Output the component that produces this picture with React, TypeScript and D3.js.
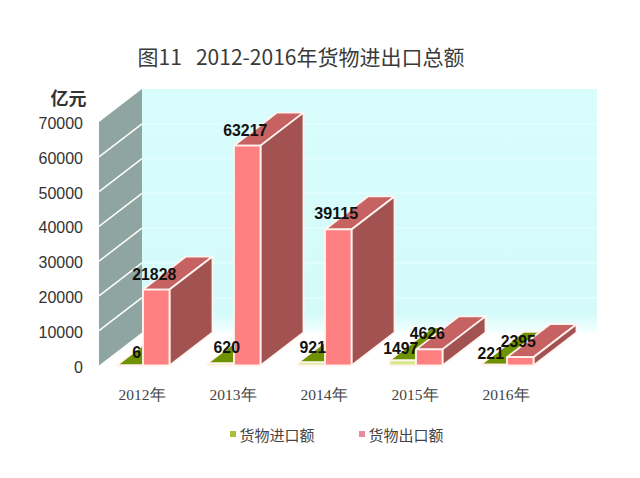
import React from "react";
import { scaleBand, scaleLinear, range } from "d3";

const years = ["2012年", "2013年", "2014年", "2015年", "2016年"];
const importValues = [6, 620, 921, 1497, 221];
const exportValues = [21828, 63217, 39115, 4626, 2395];
const yTicks = [0, 10000, 20000, 30000, 40000, 50000, 60000, 70000];
const legendLabels = ["货物进口额", "货物出口额"];

const width = 640;
const height = 478;
const depthX = 43;
const depthY = -33;
const cjk = '"Noto Sans CJK SC", sans-serif';
const latin = '"Liberation Sans", Arial, sans-serif';

const y = scaleLinear().domain([0, 70000]).range([365.5, 122]);
const x = scaleBand().domain(years).range([97.5, 552.5]);
const barWidth = 26.5;
const wallX = 99;
const backRight = 597;

// hand nudges so the value labels sit where they do in the original
const importNudge = [
  [7, -13],
  [6, -16],
  [1, -15],
  [-2, -12],
  [-3, -12],
];

const poly = (pts: number[][]) => pts.map((p) => p.join(",")).join(" ");

function Bar({ bx, value, front, top, side }: any) {
  const x0 = bx;
  const x1 = bx + barWidth;
  const y0 = y(0);
  const y1 = y(value);
  return (
    <g stroke="#fff4f0" strokeWidth={1.8} strokeLinejoin="round">
      <polygon
        points={poly([
          [x0, y1],
          [x0 + depthX, y1 + depthY],
          [x1 + depthX, y1 + depthY],
          [x1, y1],
        ])}
        fill={top}
      />
      <polygon
        points={poly([
          [x1, y1],
          [x1 + depthX, y1 + depthY],
          [x1 + depthX, y0 + depthY],
          [x1, y0],
        ])}
        fill={side}
      />
      <rect x={x0} y={y1} width={barWidth} height={y0 - y1} fill={front} />
    </g>
  );
}

function ValueLabel({ cx, cy, value }: any) {
  const s = String(value);
  return (
    <text
      x={cx}
      y={cy + 6}
      textLength={s.length * 8.8}
      lengthAdjust="spacingAndGlyphs"
    >
      {s}
    </text>
  );
}

export default function App() {
  return (
    <svg
      width={width}
      height={height}
      style={{ position: "absolute", left: 0, top: 0, background: "#fff" }}
    >
      <defs>
        <linearGradient id="backWall" x1="0" y1="0" x2="0" y2="1">
          <stop offset="0" stopColor="#d9fdfd" />
          <stop offset="0.92" stopColor="#d4fafa" />
          <stop offset="1" stopColor="#f4ffff" />
        </linearGradient>
      </defs>

      <text
        x={301}
        y={65}
        textAnchor="middle"
        fontFamily={cjk}
        fontSize={21}
        fill="#3a3a3a"
      >
        {"图11\u00a0\u00a0\u00a02012-2016年货物进出口总额"}
      </text>

      <rect
        x={wallX + depthX}
        y={y(70000) + depthY}
        width={backRight - wallX - depthX}
        height={y(0) - y(70000)}
        fill="url(#backWall)"
      />
      {yTicks.slice(1, -1).map((t) => (
        <line
          key={t}
          x1={wallX + depthX}
          x2={backRight}
          y1={y(t) + depthY}
          y2={y(t) + depthY}
          stroke="#e2ffff"
          strokeWidth={1.5}
        />
      ))}

      <polygon
        points={poly([
          [wallX, y(70000)],
          [wallX + depthX, y(70000) + depthY],
          [wallX + depthX, y(0) + depthY],
          [wallX, y(0)],
        ])}
        fill="#8fa5a2"
      />
      {yTicks.slice(1, -1).map((t) => (
        <line
          key={t}
          x1={wallX}
          y1={y(t)}
          x2={wallX + depthX}
          y2={y(t) + depthY}
          stroke="#fff"
          strokeWidth={1.5}
        />
      ))}

      {yTicks.map((t) => (
        <text
          key={t}
          x={83}
          y={y(t) + 7}
          textAnchor="end"
          fontFamily={latin}
          fontSize={16}
          fill="#333"
        >
          {t}
        </text>
      ))}
      <text
        x={68.5}
        y={105}
        textAnchor="middle"
        fontFamily={cjk}
        fontSize={18}
        fontWeight="bold"
        fill="#333"
      >
        亿元
      </text>

      {range(years.length).map((i) => {
        const c = x(years[i])! + x.bandwidth() / 2;
        return (
          <g key={years[i]}>
            <Bar
              bx={c - barWidth}
              value={importValues[i]}
              front="#d6ea8c"
              top="#6f9200"
              side="#5f7d00"
            />
            <Bar
              bx={c}
              value={exportValues[i]}
              front="#ff8080"
              top="#c66262"
              side="#a35252"
            />
          </g>
        );
      })}

      {range(years.length).map((i) => {
        const c = x(years[i])! + x.bandwidth() / 2;
        return (
          <g
            key={years[i]}
            fontFamily={latin}
            fontSize={16.5}
            fontWeight="bold"
            fill="#111"
            textAnchor="middle"
          >
            <ValueLabel
              cx={c - barWidth / 2 + importNudge[i][0]}
              cy={y(importValues[i]) + importNudge[i][1]}
              value={importValues[i]}
            />
            <ValueLabel
              cx={c + barWidth / 2 - 2}
              cy={y(exportValues[i]) - 16}
              value={exportValues[i]}
            />
          </g>
        );
      })}

      {years.map((d) => (
        <text
          key={d}
          x={x(d)! + x.bandwidth() / 2 - 1}
          y={400}
          textAnchor="middle"
          fontFamily='"Liberation Serif", serif'
          fontSize={15.5}
          fill="#444"
        >
          {d}
        </text>
      ))}

      {legendLabels.map((d, i) => (
        <g key={d} transform={`translate(${230 + i * 129},0)`}>
          <rect
            x={0}
            y={431}
            width={6}
            height={6}
            fill={i === 0 ? "#a4c03c" : "#e88a9a"}
          />
          <text x={9.5} y={441} fontFamily={cjk} fontSize={15} fill="#444">
            {d}
          </text>
        </g>
      ))}
    </svg>
  );
}
